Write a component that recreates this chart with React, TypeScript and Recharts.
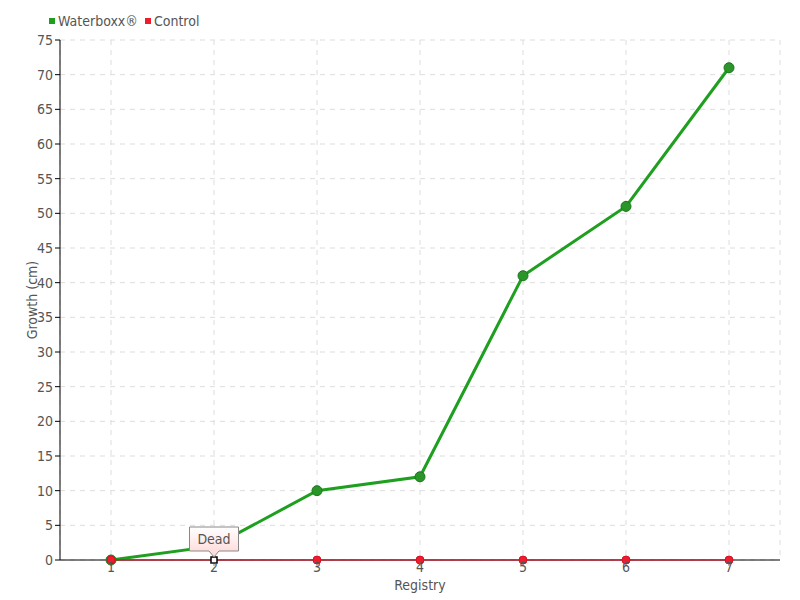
import { LineChart, Line, XAxis, YAxis, CartesianGrid, ReferenceLine } from 'recharts';

const registry = ['1', '2', '3', '4', '5', '6', '7'];
const waterboxx = [0, 2, 10, 12, 41, 51, 71];
const control = [0, 0, 0, 0, 0, 0, 0];
const controlNotes = ['', 'Dead', '', '', '', '', ''];
const yTicks = [0, 5, 10, 15, 20, 25, 30, 35, 40, 45, 50, 55, 60, 65, 70, 75];

const data = registry.map((r, i) => ({
  registry: r,
  waterboxx: waterboxx[i],
  control: control[i],
  note: controlNotes[i],
}));

const FONT = '"DejaVu Sans Condensed", "DejaVu Sans", sans-serif';
const TEXT = '#555';
const GREEN = '#1f9f1f';
const RED = '#e0001b';
const tickStyle = { fill: TEXT, fontSize: 14, fontFamily: FONT, fontStretch: 'condensed' as const };

function XTick(props: any) {
  const { x, y, payload } = props;
  return (
    <text x={x} y={y} dy="0.3em" textAnchor="middle" style={tickStyle}>
      {payload.value}
    </text>
  );
}

function ControlDot(props: any) {
  const { cx, cy, payload } = props;
  if (payload.note) {
    return <rect x={cx - 3} y={cy - 3} width={6} height={6} fill="#fff" stroke="#000" strokeWidth={1.5} />;
  }
  return <circle cx={cx} cy={cy} r={4} fill="#ee1c2e" stroke="#d81020" strokeWidth={1} />;
}

function NoteLabel(props: any) {
  const { x, y, index } = props;
  const note = controlNotes[index];
  if (!note) return null;
  const w = 49;
  const h = 24;
  const top = y - 33;
  return (
    <g>
      <defs>
        <linearGradient id="noteFill" x1="0" y1="0" x2="0" y2="1">
          <stop offset="0%" stopColor="#ffffff" />
          <stop offset="100%" stopColor="#ffd6d6" />
        </linearGradient>
      </defs>
      <path
        d={`M${x - w / 2},${top} h${w} v${h} h${-(w / 2 - 5)} l-5,6 l-5,-6 h${-(w / 2 - 5)} z`}
        fill="url(#noteFill)"
        stroke="#888"
        strokeWidth={1}
      />
      <text x={x} y={top + 17} textAnchor="middle" style={tickStyle}>
        {note}
      </text>
    </g>
  );
}

function LegendBox() {
  const items = [
    { name: 'Waterboxx®', color: GREEN },
    { name: 'Control', color: '#ee1c2e' },
  ];
  return (
    <div
      style={{
        position: 'absolute',
        left: 49,
        top: 13,
        display: 'flex',
        fontFamily: FONT,
        fontStretch: 'condensed',
        fontSize: 14,
        color: TEXT,
      }}
    >
      {items.map((it) => (
        <div key={it.name} style={{ display: 'flex', alignItems: 'center', marginRight: 7 }}>
          <span style={{ width: 6, height: 6, background: it.color, marginRight: 3, display: 'inline-block' }} />
          <span>{it.name}</span>
        </div>
      ))}
    </div>
  );
}

export default function App() {
  return (
    <div style={{ position: 'absolute', left: 0, top: 0, width: 800, height: 600, background: '#fff' }}>
      <LineChart width={800} height={600} data={data} margin={{ top: 40, right: 20, bottom: 0, left: 0 }}>
        <CartesianGrid stroke="#ddd" strokeDasharray="5 5" />
        <XAxis
          dataKey="registry"
          height={40}
          padding={{ left: 51, right: 51 }}
          axisLine={false}
          tickLine={{ stroke: '#888' }}
          tickSize={6}
          tickMargin={2}
          tick={<XTick />}
          label={{ value: 'Registry', position: 'insideBottom', offset: 10, style: tickStyle }}
        />
        <YAxis
          width={60}
          domain={[0, 75]}
          ticks={yTicks}
          interval={0}
          axisLine={{ stroke: '#000' }}
          tickLine={{ stroke: '#000' }}
          tickSize={5}
          tick={tickStyle}
          label={{ value: 'Growth (cm)', angle: -90, position: 'insideLeft', offset: 32, style: { ...tickStyle, textAnchor: 'middle' } }}
        />
        <ReferenceLine y={0} stroke="#000" strokeWidth={1} />
        <Line
          type="linear"
          dataKey="waterboxx"
          name="Waterboxx®"
          stroke={GREEN}
          strokeWidth={3}
          dot={{ r: 5, fill: '#2a962a', stroke: '#1c751c', strokeWidth: 1 }}
          isAnimationActive={false}
        />
        <Line
          type="linear"
          dataKey="control"
          name="Control"
          stroke={RED}
          strokeWidth={1.2}
          dot={<ControlDot />}
          label={<NoteLabel />}
          isAnimationActive={false}
        />
      </LineChart>
      <LegendBox />
    </div>
  );
}
